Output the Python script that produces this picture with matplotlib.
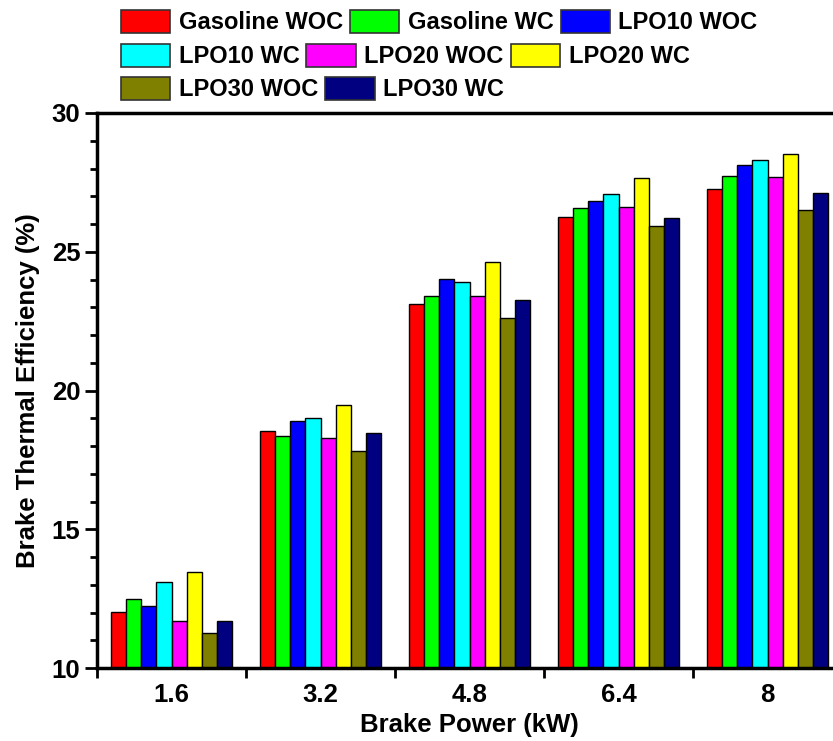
import matplotlib
matplotlib.use("Agg")
import matplotlib.pyplot as plt
from matplotlib.ticker import MultipleLocator
from matplotlib.patches import Patch
import numpy as np

plt.rcParams['font.family'] = ['Liberation Sans', 'DejaVu Sans']
plt.rcParams['font.weight'] = 'bold'

categories = ["1.6", "3.2", "4.8", "6.4", "8"]
series_names = ["Gasoline WOC", "Gasoline WC", "LPO10 WOC", "LPO10 WC",
                "LPO20 WOC", "LPO20 WC", "LPO30 WOC", "LPO30 WC"]
gasoline_woc = [12.03, 18.55, 23.12, 26.26, 27.27]
gasoline_wc = [12.48, 18.36, 23.42, 26.56, 27.74]
lpo10_woc = [12.23, 18.89, 24.02, 26.84, 28.11]
lpo10_wc = [13.09, 19.02, 23.90, 27.08, 28.29]
lpo20_woc = [11.69, 18.30, 23.40, 26.60, 27.71]
lpo20_wc = [13.45, 19.49, 24.63, 27.66, 28.53]
lpo30_woc = [11.26, 17.83, 22.62, 25.94, 26.50]
lpo30_wc = [11.70, 18.46, 23.26, 26.20, 27.13]
series_values = [gasoline_woc, gasoline_wc, lpo10_woc, lpo10_wc,
                 lpo20_woc, lpo20_wc, lpo30_woc, lpo30_wc]
colors = ["#FF0000", "#00FF00", "#0000FF", "#00FFFF",
          "#FF00FF", "#FFFF00", "#808000", "#000080"]

fig = plt.figure(figsize=(8.33, 7.41), dpi=100)
ax = fig.add_axes([97/833, 1-668/741, (842-97)/833, (668-113)/741])

x = np.arange(len(categories))
n = len(series_names)
w = 0.101
for i, (name, vals, c) in enumerate(zip(series_names, series_values, colors)):
    offs = (i - (n-1)/2) * w
    ax.bar(x + offs, np.array(vals) - 10, width=w, bottom=10, color=c,
           edgecolor='black', linewidth=1.0, label=name)

ax.set_xlim(-0.5, len(categories)-0.5)
ax.set_ylim(10, 30)
ax.yaxis.set_major_locator(MultipleLocator(5))
ax.yaxis.set_minor_locator(MultipleLocator(1))
ax.set_xticks(np.arange(len(categories)+1) - 0.5)
ax.set_xticklabels([])
ax.set_xticks(x, categories, minor=True)
ax.tick_params(axis='x', which='minor', length=0, labelsize=18.5, pad=11)
ax.tick_params(axis='x', which='major', length=7, width=2, direction='out')
ax.tick_params(axis='y', which='major', length=9, width=2, direction='out', labelsize=18.5, pad=3)
ax.tick_params(axis='y', which='minor', length=5, width=2, direction='out')
for lab in ax.get_xticklabels(minor=True) + ax.get_yticklabels():
    lab.set_fontweight('bold')
for s in ax.spines.values():
    s.set_linewidth(2.5)

ax.set_xlabel("Brake Power (kW)", fontsize=18.5, fontweight='bold', labelpad=4)
ax.set_ylabel("Brake Thermal Efficiency (%)", fontsize=18.5, fontweight='bold', labelpad=8)

handles = [Patch(facecolor=c, edgecolor='#333333', linewidth=1.2) for c in colors]
rows = [[0, 1, 2], [3, 4, 5], [6, 7]]
row_y = [1 - 22/741, 1 - 56/741, 1 - 89/741]
for r, yy in zip(rows, row_y):
    fig.legend([handles[k] for k in r], [series_names[k] for k in r],
               loc='center left', bbox_to_anchor=(109/833, yy), ncol=len(r),
               frameon=False, handlelength=2.1, handleheight=1.15,
               handletextpad=0.35, columnspacing=0.3, borderpad=0.0,
               prop={'weight': 'bold', 'size': 17})

fig.savefig("out.png", dpi=100)
